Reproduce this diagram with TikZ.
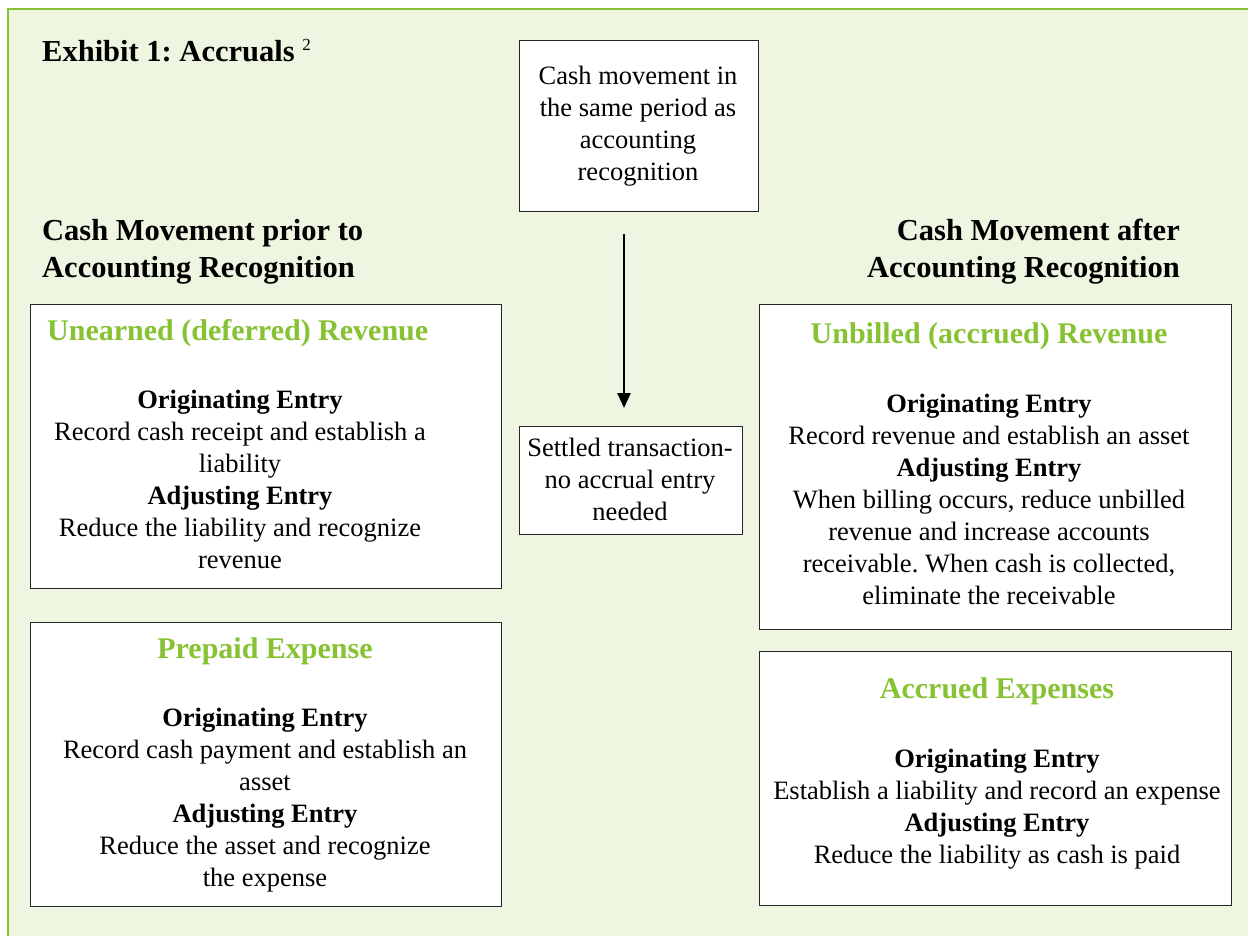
\documentclass[tikz,border=0pt]{standalone}
\usepackage{fontspec}
\setmainfont{Liberation Serif}
\usetikzlibrary{positioning,arrows.meta}
\definecolor{accgreen}{HTML}{86C232}
\definecolor{accback}{HTML}{EEF5E0}
\frenchspacing

\begin{document}
\begin{tikzpicture}[x=1pt,y=-1pt]
    \tikzstyle{entrybox}=[draw=black!85, line width=1pt, fill=white, inner sep=0pt, anchor=north west]
    \tikzstyle{body}=[font=\fontsize{26.5}{32}\selectfont, align=center, anchor=base, inner sep=0pt]
    \tikzstyle{heading}=[font=\fontsize{30}{32}\selectfont\bfseries, text=accgreen, inner sep=0pt]
    \tikzstyle{sidetitle}=[font=\fontsize{30.5}{36}\selectfont\bfseries, inner sep=0pt]

    \useasboundingbox (0,0) rectangle (1248,936);
    \fill[accback] (8,9) rectangle (1248,936);
    \draw[accgreen, line width=2.5pt] (8,936) -- (8,9) -- (1248,9);

    \node[sidetitle, anchor=base west] (exhibit) at (42,62) {Exhibit 1: Accruals {\mdseries\fontsize{17}{17}\selectfont\raisebox{11pt}{2}}};

    \node[sidetitle, align=left, anchor=base west] (priortitle) at (42,277) {Cash Movement prior to\\Accounting Recognition};
    \node[sidetitle, align=right, anchor=base east] (aftertitle) at (1180,277) {Cash Movement after\\Accounting Recognition};

    % centre column
    \node[entrybox, minimum width=239pt, minimum height=171pt] (samebox) at (519,40) {};
    \node[body] (sametext) at (638,181) {Cash movement in\\the same period as\\accounting\\recognition};
    \node[entrybox, minimum width=223pt, minimum height=108pt] (settled) at (519,426) {};
    \node[body] (settledtext) at (630,520) {Settled transaction-\\no accrual entry\\needed};
    \draw[line width=2.2pt, -{Triangle[length=15pt,width=13pt]}, shorten <=22pt, shorten >=18pt]
        ([xshift=-15pt]samebox.south) -- ([xshift=-15pt]samebox.south |- settled.north);

    % cash before recognition
    \node[entrybox, minimum width=471pt, minimum height=284pt] (unearned) at (30,304) {};
    \node[heading, anchor=base west] (unearnedhead) at (47,340) {Unearned (deferred) Revenue};
    \node[body] (unearnedtext) at (240,568) {\textbf{Originating Entry}\\Record cash receipt and establish a\\liability\\\textbf{Adjusting Entry}\\Reduce the liability and recognize\\revenue};

    \node[entrybox, minimum width=471pt, minimum height=284pt] (prepaid) at (30,622) {};
    \node[heading, anchor=base] (prepaidhead) at (265,658) {Prepaid Expense};
    \node[body] (prepaidtext) at (265,886) {\textbf{Originating Entry}\\Record cash payment and establish an\\asset\\\textbf{Adjusting Entry}\\Reduce the asset and recognize\\the expense};

    % cash after recognition
    \node[entrybox, minimum width=472pt, minimum height=325pt] (unbilled) at (759,304) {};
    \node[heading, anchor=base] (unbilledhead) at (989,343) {Unbilled (accrued) Revenue};
    \node[body] (unbilledtext) at (989,604) {\textbf{Originating Entry}\\Record revenue and establish an asset\\\textbf{Adjusting Entry}\\When billing occurs, reduce unbilled\\revenue and increase accounts\\receivable. When cash is collected,\\eliminate the receivable};

    \node[entrybox, minimum width=472pt, minimum height=254pt] (accrued) at (759,651) {};
    \node[heading, anchor=base] (accruedhead) at (997,698) {Accrued Expenses};
    \node[body] (accruedtext) at (997,863) {\textbf{Originating Entry}\\Establish a liability and record an expense\\\textbf{Adjusting Entry}\\Reduce the liability as cash is paid};
\end{tikzpicture}
\end{document}
